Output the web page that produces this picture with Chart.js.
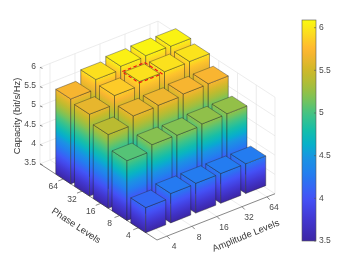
<!DOCTYPE html>
<html>
<head>
<meta charset="utf-8">
<style>
html, body { margin: 0; padding: 0; background: #fff; }
canvas { display: block; }
</style>
<script src="https://cdn.jsdelivr.net/npm/chart.js@4/dist/chart.umd.min.js"></script>
</head>
<body>
<canvas id="chart" width="362" height="271"></canvas>
<script>
// tick labels
const ampLevels = ['4', '8', '16', '32', '64'];
const phaseLevels = ['4', '8', '16', '32', '64'];
const capTicks = [3.5, 4, 4.5, 5, 5.5, 6];

// capacity per amplitude level, one list per phase level
const phase4 = [4.15, 4.26, 4.27, 4.27, 4.27];
const phase8 = [5.05, 5.21, 5.2, 5.24, 5.25];
const phase16 = [5.41, 5.64, 5.66, 5.7, 5.71];
const phase32 = [5.62, 5.85, 5.96, 5.96, 5.97];
const phase64 = [5.7, 5.95, 6.04, 6.06, 6.05];
const capacity = [phase4, phase8, phase16, phase32, phase64];

const highlight = { amp: '16', phase: '32' };

const capMin = 3.5;
const capMax = 6.09;

// parula-like colormap
const cmap = [
    [0, 60, 38, 165], [0.1, 66, 55, 210], [0.195, 68, 82, 248], [0.3, 35, 125, 240],
    [0.385, 25, 150, 225], [0.43, 5, 175, 205], [0.5, 20, 190, 170], [0.58, 70, 195, 130],
    [0.64, 120, 195, 90], [0.7, 165, 190, 60], [0.77, 205, 185, 40], [0.864, 255, 180, 50],
    [0.93, 252, 215, 35], [1, 250, 250, 15]
];

function colorFor(value) {
    const t = Math.min(1, Math.max(0, (value - capMin) / (capMax - capMin)));
    for (let i = 1; i < cmap.length; i++) {
        if (t <= cmap[i][0]) {
            const a = cmap[i - 1], b = cmap[i];
            const k = (t - a[0]) / (b[0] - a[0]);
            return `rgb(${[1, 2, 3].map(n => Math.round(a[n] + (b[n] - a[n]) * k)).join(',')})`;
        }
    }
    return 'rgb(250,250,15)';
}

// oblique view of the box, in view units of the hidden x/y scales
const view = {
    origin: { x: 157, y: 240 },
    amp: { x: 25, y: -9.8 },
    phase: { x: -18.75, y: -12.2 },
    cap: 38.6,
    ampEnd: 4.72,
    phaseEnd: 6.24,
    ampStart: 0.4,
    phaseStart: 1,
    barWidth: 0.8
};

function toView(a, p, z) {
    return {
        x: view.origin.x + view.amp.x * a + view.phase.x * p,
        y: view.origin.y + view.amp.y * a + view.phase.y * p - view.cap * (z - capMin)
    };
}

const barTops = [];
capacity.forEach((row, p) => row.forEach((v, a) => {
    const pt = toView(view.ampStart + a, view.phaseStart + p, v);
    barTops.push({ x: pt.x, y: pt.y, ampIndex: a, phaseIndex: p, value: v });
}));

const textColor = '#4a4a4a';
const fontFamily = '"Liberation Sans", Arial, sans-serif';

const box3d = {
    id: 'box3d',
    beforeDatasetsDraw(chart) {
        const ctx = chart.ctx;
        const sx = chart.scales.x, sy = chart.scales.y, sc = chart.scales.cb;
        const px = (a, p, z) => {
            const v = toView(a, p, z);
            return [sx.getPixelForValue(v.x), sy.getPixelForValue(v.y)];
        };
        const line = (from, to) => {
            ctx.beginPath();
            ctx.moveTo(from[0], from[1]);
            ctx.lineTo(to[0], to[1]);
            ctx.stroke();
        };
        const ampTicksAt = ampLevels.map((_, i) => view.ampStart + i);
        const phaseTicksAt = phaseLevels.map((_, i) => view.phaseStart + i);
        const wallTop = 6;

        ctx.save();
        // back walls and floor grid
        ctx.strokeStyle = '#e4e4e4';
        ctx.lineWidth = 0.7;
        capTicks.forEach(z => {
            line(px(0, view.phaseEnd, z), px(view.ampEnd, view.phaseEnd, z));
            line(px(view.ampEnd, view.phaseEnd, z), px(view.ampEnd, 0, z));
        });
        ampTicksAt.forEach(a => {
            line(px(a, view.phaseEnd, capMin), px(a, view.phaseEnd, wallTop));
            line(px(a, 0, capMin), px(a, view.phaseEnd, capMin));
        });
        phaseTicksAt.forEach(p => {
            line(px(view.ampEnd, p, capMin), px(view.ampEnd, p, wallTop));
            line(px(0, p, capMin), px(view.ampEnd, p, capMin));
        });
        line(px(0, view.phaseEnd, capMin), px(0, view.phaseEnd, wallTop));
        line(px(view.ampEnd, view.phaseEnd, capMin), px(view.ampEnd, view.phaseEnd, wallTop));
        line(px(view.ampEnd, 0, capMin), px(view.ampEnd, 0, wallTop));

        // front axis lines and ticks
        ctx.strokeStyle = '#555';
        ctx.lineWidth = 0.7;
        line(px(0, 0, capMin), px(0, view.phaseEnd, capMin));
        line(px(0, 0, capMin), px(view.ampEnd, 0, capMin));
        ampTicksAt.forEach(a => line(px(a, 0, capMin), px(a - 0.04, -0.2, capMin)));
        phaseTicksAt.forEach(p => line(px(0, p, capMin), px(-0.2, p, capMin)));
        capTicks.forEach(z => {
            const o = px(0, view.phaseEnd, z);
            line([o[0], o[1]], [o[0] + 2.5, o[1] + 1]);
        });

        // bars, back to front
        const half = view.barWidth / 2;
        const face = (a0, p0, a1, p1, top) => {
            const b0 = px(a0, p0, capMin), b1 = px(a1, p1, capMin);
            const t0 = px(a0, p0, top);
            const h = b0[1] - t0[1];
            ctx.save();
            ctx.transform(1, (b1[1] - b0[1]) / (b1[0] - b0[0]), 0, 1, b0[0], b0[1]);
            const g = ctx.createLinearGradient(0, 0, 0, -h);
            for (let i = 0; i <= 16; i++) {
                g.addColorStop(i / 16, colorFor(capMin + (top - capMin) * i / 16));
            }
            ctx.fillStyle = g;
            ctx.fillRect(0, 0, b1[0] - b0[0], -h);
            ctx.strokeStyle = 'rgba(40,40,40,0.65)';
            ctx.lineWidth = 0.6;
            ctx.strokeRect(0, 0, b1[0] - b0[0], -h);
            ctx.restore();
        };
        const topQuad = (ca, cp, w, z) => [
            px(ca - w, cp - w, z), px(ca + w, cp - w, z), px(ca + w, cp + w, z), px(ca - w, cp + w, z)
        ];
        for (let p = phaseLevels.length - 1; p >= 0; p--) {
            for (let a = ampLevels.length - 1; a >= 0; a--) {
                const v = capacity[p][a];
                const ca = view.ampStart + a, cp = view.phaseStart + p;
                // left face then right face
                face(ca - half, cp + half, ca - half, cp - half, v);
                face(ca - half, cp - half, ca + half, cp - half, v);
                const q = topQuad(ca, cp, half, v);
                ctx.beginPath();
                q.forEach((c, i) => i ? ctx.lineTo(c[0], c[1]) : ctx.moveTo(c[0], c[1]));
                ctx.closePath();
                ctx.fillStyle = colorFor(v);
                ctx.fill();
                ctx.strokeStyle = 'rgba(40,40,40,0.65)';
                ctx.lineWidth = 0.6;
                ctx.stroke();
            }
        }

        // dashed marker on the best bar
        const hA = ampLevels.indexOf(highlight.amp), hP = phaseLevels.indexOf(highlight.phase);
        const hq = topQuad(view.ampStart + hA, view.phaseStart + hP, 0.46, capacity[hP][hA]);
        ctx.beginPath();
        hq.forEach((c, i) => i ? ctx.lineTo(c[0], c[1]) : ctx.moveTo(c[0], c[1]));
        ctx.closePath();
        ctx.strokeStyle = '#f01010';
        ctx.lineWidth = 1.1;
        ctx.setLineDash([3.5, 2.5]);
        ctx.stroke();
        ctx.setLineDash([]);

        // axis texts
        ctx.fillStyle = textColor;
        ctx.font = `8.5px ${fontFamily}`;
        ctx.textAlign = 'center';
        ctx.textBaseline = 'middle';
        ampLevels.forEach((t, i) => {
            const o = px(ampTicksAt[i], 0, capMin);
            ctx.fillText(t, o[0] + 7, o[1] + 11);
        });
        phaseLevels.forEach((t, i) => {
            const o = px(0, phaseTicksAt[i], capMin);
            ctx.fillText(t, o[0] - 10, o[1] + 8);
        });
        ctx.textAlign = 'right';
        capTicks.forEach(z => {
            const o = px(0, view.phaseEnd, z);
            ctx.fillText(String(z), o[0] - 4, o[1] - 1);
        });
        ctx.textAlign = 'center';
        ctx.fillStyle = '#333';
        ctx.font = `9.4px ${fontFamily}`;
        const rotated = (text, x, y, deg) => {
            ctx.save();
            ctx.translate(sx.getPixelForValue(x), sy.getPixelForValue(y));
            ctx.rotate(deg * Math.PI / 180);
            ctx.fillText(text, 0, 0);
            ctx.restore();
        };
        rotated('Capacity (bit/s/Hz)', 17, 116, -90);
        rotated('Phase Levels', 76, 226, 33.5);
        rotated('Amplitude Levels', 246, 236, -22);

        // colorbar, fed by the cb scale
        const barLeft = sc.left - 14, barRight = sc.left;
        const g = ctx.createLinearGradient(0, sc.getPixelForValue(capMin), 0, sc.getPixelForValue(capMax));
        for (let i = 0; i <= 32; i++) {
            g.addColorStop(i / 32, colorFor(capMin + (capMax - capMin) * i / 32));
        }
        ctx.fillStyle = g;
        const top = sc.getPixelForValue(capMax), bottom = sc.getPixelForValue(capMin);
        ctx.fillRect(barLeft, top, barRight - barLeft, bottom - top);
        ctx.strokeStyle = '#555';
        ctx.lineWidth = 0.6;
        ctx.strokeRect(barLeft, top, barRight - barLeft, bottom - top);
        capTicks.forEach(z => {
            const y = sc.getPixelForValue(z);
            line([barRight - 2, y], [barRight, y]);
        });
        ctx.restore();
    }
};

new Chart(document.getElementById('chart').getContext('2d'), {
    type: 'scatter',
    data: {
        datasets: [{
            label: 'Capacity',
            data: barTops,
            pointRadius: 0,
            showLine: false
        }]
    },
    options: {
        responsive: false,
        animation: false,
        events: [],
        layout: { padding: { left: 0, top: 20, right: 28, bottom: 30 } },
        plugins: { legend: { display: false }, tooltip: { enabled: false } },
        scales: {
            x: { type: 'linear', display: false, min: 0, max: 316 },
            y: { type: 'linear', display: false, reverse: true, min: 20, max: 241 },
            cb: {
                type: 'linear',
                position: 'right',
                min: capMin,
                max: capMax,
                afterBuildTicks: s => { s.ticks = capTicks.map(value => ({ value })); },
                afterFit: s => { s.width = 18; },
                grid: { display: false, drawTicks: false },
                border: { display: false },
                ticks: {
                    padding: 3,
                    color: textColor,
                    font: { family: fontFamily, size: 8.5 },
                    callback: v => String(v)
                }
            }
        }
    },
    plugins: [box3d]
});
</script>
</body>
</html>
